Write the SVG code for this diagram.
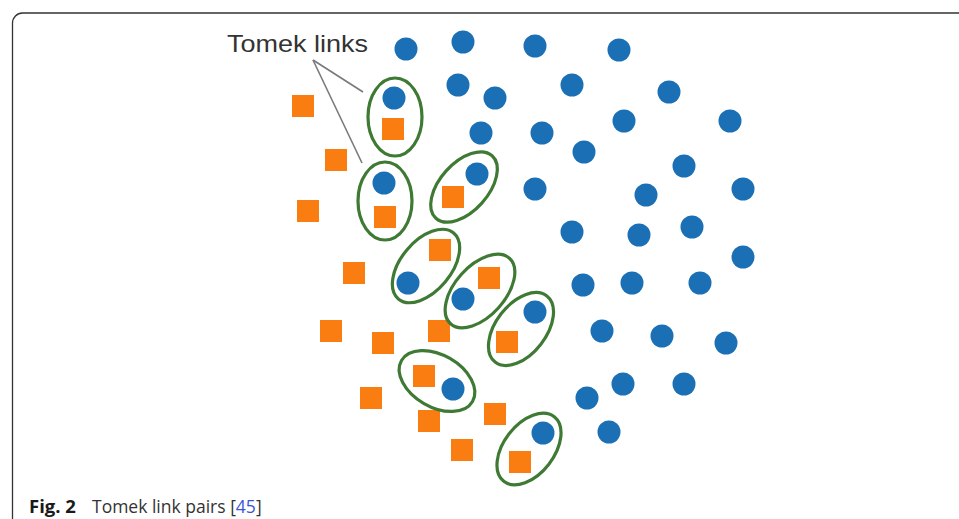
<svg xmlns="http://www.w3.org/2000/svg" width="959" height="519" viewBox="0 0 959 519">
  <style>
    .b { fill: #1b6fb5; }
    .o { fill: #fa7d12; }
    .e { fill: none; stroke: #3f7a34; stroke-width: 3.2; }
    .ln { stroke: #7a7a7a; stroke-width: 1.6; fill: none; }
    .lbl { font-family: "Liberation Sans", Arial, sans-serif; font-size: 24px; fill: #333; }
    .cap { font-family: "Open Sans", "Noto Sans", sans-serif; font-size: 17.5px; fill: #333; }
  </style>
  <defs>
    <circle id="c" r="11.5"/>
    <rect id="s" x="-11" y="-11" width="22" height="22"/>
  </defs>
  <rect width="959" height="519" fill="#fff"/>
  <path d="M12.5,519 V23 A10,10 0 0 1 22.5,13 H959" fill="none" stroke="#333" stroke-width="1.3"/>

  <g id="majority">
    <use href="#c" class="b" x="406" y="49"/>
    <use href="#c" class="b" x="463" y="42"/>
    <use href="#c" class="b" x="535" y="46"/>
    <use href="#c" class="b" x="619" y="50"/>
    <use href="#c" class="b" x="458" y="85"/>
    <use href="#c" class="b" x="495" y="98"/>
    <use href="#c" class="b" x="572" y="85"/>
    <use href="#c" class="b" x="669" y="92"/>
    <use href="#c" class="b" x="481" y="133"/>
    <use href="#c" class="b" x="542" y="133"/>
    <use href="#c" class="b" x="624" y="121"/>
    <use href="#c" class="b" x="730" y="121"/>
    <use href="#c" class="b" x="584" y="152"/>
    <use href="#c" class="b" x="684" y="166"/>
    <use href="#c" class="b" x="535" y="189"/>
    <use href="#c" class="b" x="646" y="195"/>
    <use href="#c" class="b" x="743" y="189"/>
    <use href="#c" class="b" x="572" y="232"/>
    <use href="#c" class="b" x="639" y="235"/>
    <use href="#c" class="b" x="692" y="227"/>
    <use href="#c" class="b" x="743" y="257"/>
    <use href="#c" class="b" x="583" y="285"/>
    <use href="#c" class="b" x="632" y="283"/>
    <use href="#c" class="b" x="700" y="283"/>
    <use href="#c" class="b" x="602" y="331"/>
    <use href="#c" class="b" x="662" y="336"/>
    <use href="#c" class="b" x="726" y="343"/>
    <use href="#c" class="b" x="623" y="384"/>
    <use href="#c" class="b" x="684" y="384"/>
    <use href="#c" class="b" x="587" y="398"/>
    <use href="#c" class="b" x="609" y="432"/>
  </g>

  <g id="minority">
    <use href="#s" class="o" x="303" y="106"/>
    <use href="#s" class="o" x="336" y="160"/>
    <use href="#s" class="o" x="308" y="211"/>
    <use href="#s" class="o" x="354" y="273"/>
    <use href="#s" class="o" x="331" y="331"/>
    <use href="#s" class="o" x="383" y="343"/>
    <use href="#s" class="o" x="439" y="331"/>
    <use href="#s" class="o" x="371" y="398"/>
    <use href="#s" class="o" x="429" y="421"/>
    <use href="#s" class="o" x="495" y="414"/>
    <use href="#s" class="o" x="462" y="450"/>
  </g>

  <g id="pair1">
    <use href="#c" class="b" x="394" y="98"/>
    <use href="#s" class="o" x="393" y="129"/>
    <ellipse class="e" cx="395" cy="117" rx="27" ry="39"/>
  </g>
  <g id="pair2">
    <use href="#c" class="b" x="384" y="183"/>
    <use href="#s" class="o" x="385" y="217"/>
    <ellipse class="e" cx="385" cy="201" rx="27" ry="39"/>
  </g>
  <g id="pair3">
    <use href="#c" class="b" x="477" y="174"/>
    <use href="#s" class="o" x="453" y="197"/>
    <ellipse class="e" cx="464" cy="187" rx="42" ry="24" transform="rotate(-48 464 187)"/>
  </g>
  <g id="pair4">
    <use href="#c" class="b" x="408" y="283"/>
    <use href="#s" class="o" x="440" y="250"/>
    <ellipse class="e" cx="426" cy="266" rx="43" ry="25" transform="rotate(-50 426 266)"/>
  </g>
  <g id="pair5">
    <use href="#c" class="b" x="463" y="299"/>
    <use href="#s" class="o" x="489" y="278"/>
    <ellipse class="e" cx="480" cy="291" rx="44" ry="25" transform="rotate(-48 480 291)"/>
  </g>
  <g id="pair6">
    <use href="#c" class="b" x="535" y="312"/>
    <use href="#s" class="o" x="507" y="342"/>
    <ellipse class="e" cx="521" cy="329" rx="42" ry="25" transform="rotate(-52 521 329)"/>
  </g>
  <g id="pair7">
    <use href="#s" class="o" x="424" y="376"/>
    <use href="#c" class="b" x="453" y="389"/>
    <ellipse class="e" cx="437" cy="381" rx="41" ry="26" transform="rotate(30 437 381)"/>
  </g>
  <g id="pair8">
    <use href="#c" class="b" x="543" y="433"/>
    <use href="#s" class="o" x="520" y="462"/>
    <ellipse class="e" cx="529" cy="449" rx="41" ry="25" transform="rotate(-52 529 449)"/>
  </g>

  <g id="connectors">
    <path class="ln" d="M313,60 L363,92"/>
    <path class="ln" d="M313,60 L362,163"/>
  </g>
  <g id="label">
    <text class="lbl" x="227" y="52" textLength="141" lengthAdjust="spacingAndGlyphs">Tomek links</text>
  </g>

  <g id="caption">
    <text class="cap" x="29" y="513"><tspan font-weight="bold" font-size="18.5" fill="#1a1a1a">Fig. 2</tspan><tspan x="92">Tomek link pairs [</tspan><tspan fill="#3a55d8">45</tspan><tspan>]</tspan></text>
  </g>
</svg>
